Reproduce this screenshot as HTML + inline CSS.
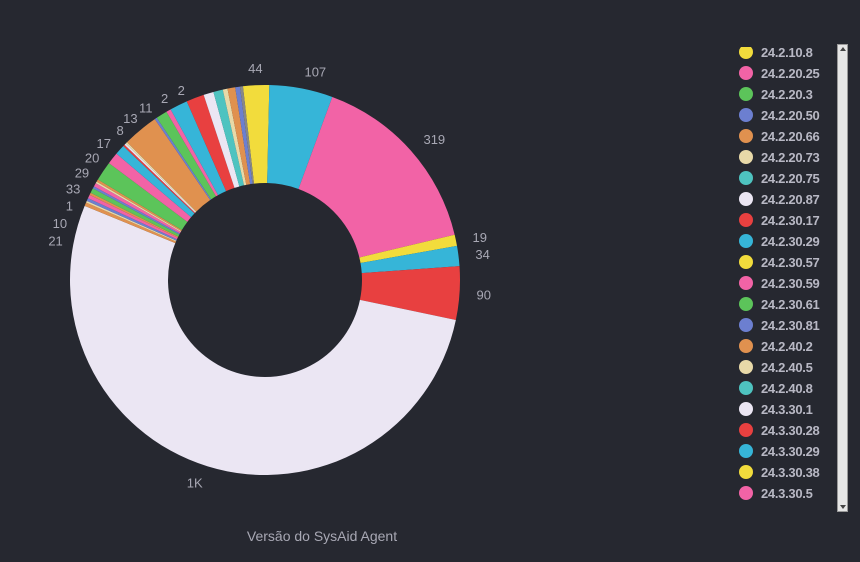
<!DOCTYPE html>
<html><head><meta charset="utf-8"><style>
body{margin:0;background:#262830;width:860px;height:562px;overflow:hidden;font-family:"Liberation Sans",sans-serif}
#legend{position:absolute;left:736px;top:47px;width:96px;height:463px;overflow:hidden}
.li{position:absolute;left:0;height:20px;display:flex;align-items:center;color:#b8b8c4;font-weight:bold;font-size:13px;letter-spacing:-0.3px}
.dot{width:14px;height:14px;border-radius:50%;margin:0 8px 0 3px}
#sb{position:absolute;left:837px;top:44px;width:11px;height:468px;background:#e6e6e6;border:1px solid #999;box-sizing:border-box}
</style></head><body>
<svg id="chart" width="720" height="562" style="position:absolute;left:0;top:0"></svg>
<div id="legend"></div>
<div id="sb">
<div style="position:absolute;top:2px;left:2px;width:0;height:0;border-left:3px solid transparent;border-right:3px solid transparent;border-bottom:4px solid #444"></div>
<div style="position:absolute;bottom:2px;left:2px;width:0;height:0;border-left:3px solid transparent;border-right:3px solid transparent;border-top:4px solid #444"></div>
</div>
<script>
const sliceValues=[44,107,319,19,34,90,1078,6,3,5,6,4,8,4,6,3,4,33,20,17,3,3,3,60,4,19,8,30,30,17,16,8,13,8,5];
const sliceColors=["#f2dc3c","#36b5d8","#f263a6","#f2dc3c","#36b5d8","#e84040","#ebe6f3","#e0914f","#e8d9a8","#6c7fd0","#f263a6","#e0914f","#5cc45a","#6c7fd0","#f263a6","#e8d9a8","#e0914f","#5cc45a","#f263a6","#36b5d8","#e84040","#ebe6f3","#e8d9a8","#e0914f","#6c7fd0","#5cc45a","#f263a6","#36b5d8","#e84040","#ebe6f3","#4ec3c0","#e8d9a8","#e0914f","#6c7fd0","#888"];
const sliceLabels=["44","107","319","19","34","90","1K","21","10","1","33","29","20","17","8","13","11","","","","","","","","","2","","2","","","","","","",""];
const legendNames=["24.2.10.8","24.2.20.25","24.2.20.3","24.2.20.50","24.2.20.66","24.2.20.73","24.2.20.75","24.2.20.87","24.2.30.17","24.2.30.29","24.2.30.57","24.2.30.59","24.2.30.61","24.2.30.81","24.2.40.2","24.2.40.5","24.2.40.8","24.3.30.1","24.3.30.28","24.3.30.29","24.3.30.38","24.3.30.5"];
const legendColors=["#f2dc3c","#f263a6","#5cc45a","#6c7fd0","#e0914f","#e8d9a8","#4ec3c0","#ebe6f3","#e84040","#36b5d8","#f2dc3c","#f263a6","#5cc45a","#6c7fd0","#e0914f","#e8d9a8","#4ec3c0","#ebe6f3","#e84040","#36b5d8","#f2dc3c","#f263a6"];
const NS="http://www.w3.org/2000/svg";
const svg=document.getElementById('chart');
const cx=265,cy=280,R=195,r0=97,start=-6.5;
const total=sliceValues.reduce((a,b)=>a+b,0);
function pt(deg,rad){const a=(deg-90)*Math.PI/180;return [cx+rad*Math.cos(a),cy+rad*Math.sin(a)];}
let ang=start;let leftIdx=0;
sliceValues.forEach((v,i)=>{
  const sw=v/total*360,a0=ang,a1=ang+sw;ang=a1;
  const p1=pt(a0,R),p2=pt(a1,R),p3=pt(a1,r0),p4=pt(a0,r0),lg=sw>180?1:0;
  const p=document.createElementNS(NS,'path');
  p.setAttribute('d',`M${p1}A${R},${R} 0 ${lg} 1 ${p2}L${p3}A${r0},${r0} 0 ${lg} 0 ${p4}Z`);
  p.setAttribute('fill',sliceColors[i]);
  
  
  svg.appendChild(p);
  if(sliceLabels[i]){
    let m=(a0+a1)/2;let m360=((m%360)+360)%360;
    let rad=212;
    if(m360>270&&m360<345){m360=281+leftIdx*5.1;leftIdx++;rad=206;}
    const q=pt(m360,rad);
    const t=document.createElementNS(NS,'text');
    t.setAttribute('x',q[0]);t.setAttribute('y',q[1]+5);
    t.setAttribute('font-size','13');t.setAttribute('fill','#a8a8b4');
    t.setAttribute('text-anchor',q[0]<cx-20?'end':(q[0]>cx+20?'start':'middle'));
    t.textContent=sliceLabels[i];
    
    
    svg.appendChild(t);
  }
});
const tt=document.createElementNS(NS,'text');
tt.setAttribute('x',322);tt.setAttribute('y',541);tt.setAttribute('text-anchor','middle');
tt.setAttribute('font-size','14');tt.setAttribute('fill','#a8a8b4');
tt.textContent='Versão do SysAid Agent';


svg.appendChild(tt);
const lg=document.getElementById('legend');
legendNames.forEach((n,i)=>{
  const d=document.createElement('div');d.className='li';d.style.top=(-5+i*21)+'px';
  
  
  d.innerHTML=`<span class="dot" style="background:${legendColors[i]}"></span>${n}`;
  lg.appendChild(d);
});
</script>
</body></html>
